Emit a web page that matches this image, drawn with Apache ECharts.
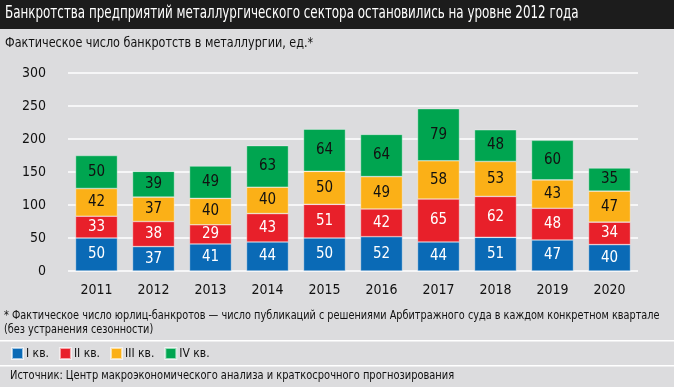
<!DOCTYPE html>
<html><head><meta charset="utf-8">
<script src="https://cdn.jsdelivr.net/npm/echarts@6/dist/echarts.min.js"></script>
<style>html,body{margin:0;padding:0;background:#dcdcde}#c{width:674px;height:387px}</style>
</head><body><div id="c"></div>
<script>
const years = ['2011','2012','2013','2014','2015','2016','2017','2018','2019','2020'];
const q1 = [50,37,41,44,50,52,44,51,47,40];
const q2 = [33,38,29,43,51,42,65,62,48,34];
const q3 = [42,37,40,40,50,49,58,53,43,47];
const q4 = [50,39,49,63,64,64,79,48,60,35];
const seriesNames = ['I кв.','II кв.','III кв.','IV кв.'];
const colors = ['#0a6ab6','#e8202a','#fbb017','#00a550'];
const labelColors = ['#fff','#fff','#111','#111'];
const yTicks = [0,50,100,150,200,250,300];
const FONT = '"DejaVu Sans Condensed","Liberation Sans Narrow",sans-serif';

const chart = echarts.init(document.getElementById('c'));
const data = [q1,q2,q3,q4];
chart.setOption({
  backgroundColor:'#dcdcde',
  textStyle:{fontFamily:FONT},
  animation:false,
  grid:{left:68,right:36,top:73,bottom:116},
  xAxis:{type:'category',data:years,axisLine:{show:false},axisTick:{show:false},
    axisLabel:{color:'#111',fontSize:14,fontFamily:FONT,margin:12}},
  yAxis:{type:'value',min:0,max:300,interval:50,
    axisLabel:{color:'#111',fontSize:14,fontFamily:FONT,margin:22},
    splitLine:{lineStyle:{color:'#ffffff',width:1.5}}},
  legend:{left:6,top:342,itemWidth:11,itemHeight:11,itemGap:10,
    textStyle:{fontSize:12,color:'#111',fontFamily:FONT,padding:[0,0,0,-2]},
    data:seriesNames,icon:'rect'},
  series:data.map((d,i)=>({
    name:seriesNames[i],type:'bar',stack:'a',barWidth:42,data:d,
    itemStyle:{color:colors[i],borderColor:'rgba(255,255,255,0.6)',borderWidth:0.6},
    label:{show:true,position:'inside',color:labelColors[i],fontSize:15,fontFamily:FONT}
  })),
  graphic:[
    {type:'rect',shape:{x:0,y:0,width:674,height:29},style:{fill:'#1c1c1c'}},
    {type:'text',x:5,y:5,scaleX:0.78,style:{text:'Банкротства предприятий металлургического сектора остановились на уровне 2012 года',fill:'#fff',fontSize:17,fontFamily:FONT}},
    {type:'text',x:5,y:36,scaleX:0.89,style:{text:'Фактическое число банкротств в металлургии, ед.*',fill:'#111',fontSize:14,fontFamily:FONT}},
    {type:'text',x:4,y:309,scaleX:0.865,style:{text:'* Фактическое число юрлиц-банкротов — число публикаций с решениями Арбитражного суда в каждом конкретном квартале\n(без устранения сезонности)',fill:'#111',fontSize:12.5,lineHeight:14,fontFamily:FONT}},
    {type:'rect',shape:{x:0,y:340,width:674,height:1.5},style:{fill:'#fff'}},
    {type:'rect',shape:{x:0,y:365,width:674,height:1.5},style:{fill:'#fff'}},
    {type:'text',x:10,y:369,scaleX:0.88,style:{text:'Источник: Центр макроэкономического анализа и краткосрочного прогнозирования',fill:'#111',fontSize:12.5,fontFamily:FONT}}
  ]
});
</script></body></html>
